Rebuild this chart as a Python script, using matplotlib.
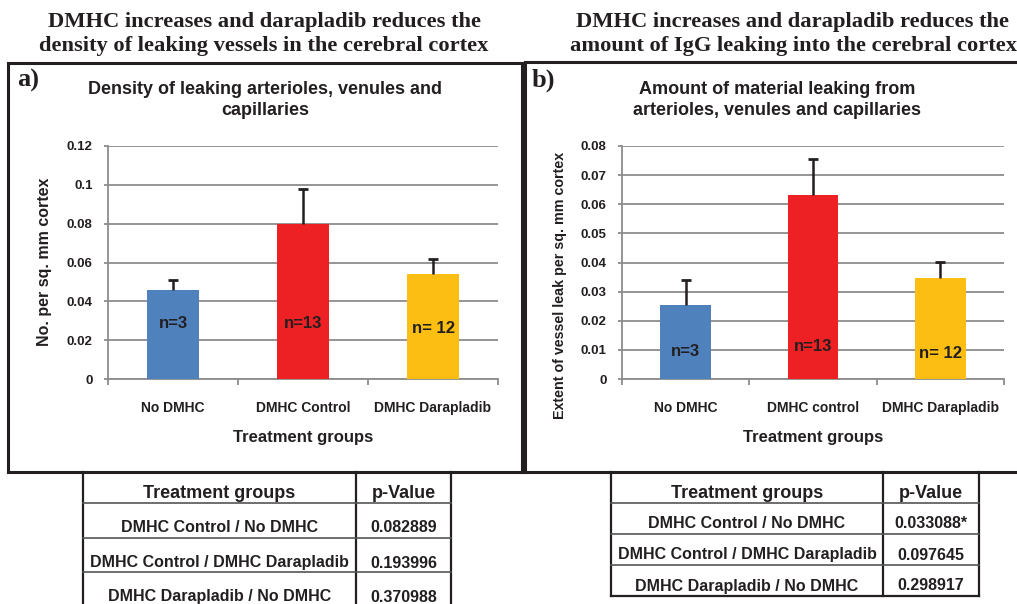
import matplotlib
matplotlib.use("Agg")
import matplotlib.pyplot as plt
from matplotlib.lines import Line2D
from matplotlib.ticker import FuncFormatter, MultipleLocator

# ---- data -------------------------------------------------------------
groups_a = ["No DMHC", "DMHC Control", "DMHC Darapladib"]
density_mean = [0.0458, 0.0800, 0.0542]
density_err = [0.0052, 0.0177, 0.0076]
n_labels_a = ["n=3", "n=13", "n= 12"]

groups_b = ["No DMHC", "DMHC control", "DMHC Darapladib"]
leak_mean = [0.0254, 0.0632, 0.0347]
leak_err = [0.0086, 0.0123, 0.0055]
n_labels_b = ["n=3", "n=13", "n= 12"]

bar_colors = ["#4F81BD", "#ED2024", "#FCBE12"]

pairs_a = ["DMHC Control / No DMHC", "DMHC Control / DMHC Darapladib",
           "DMHC Darapladib / No DMHC"]
pvals_a = ["0.082889", "0.193996", "0.370988"]
pairs_b = ["DMHC Control / No DMHC", "DMHC Control / DMHC Darapladib",
           "DMHC Darapladib / No DMHC"]
pvals_b = ["0.033088*", "0.097645", "0.298917"]

# ---- figure setup -----------------------------------------------------
W, H = 1017, 604
fig = plt.figure(figsize=(W / 100, H / 100), dpi=100)
fig.patch.set_facecolor("white")

SANS = ["Liberation Sans", "DejaVu Sans"]
SERIF = ["Liberation Serif", "DejaVu Serif"]
INK = "#231F20"
GRID = "#8C8C8C"


def fx(x):
    return x / W


def fy(y):
    return 1 - y / H


def hline(x0, x1, y, lw=1.5, color=INK):
    fig.add_artist(Line2D([fx(x0), fx(x1)], [fy(y), fy(y)], lw=lw,
                          color=color, transform=fig.transFigure,
                          solid_capstyle="projecting"))


def vline(x, y0, y1, lw=1.5, color=INK):
    fig.add_artist(Line2D([fx(x), fx(x)], [fy(y0), fy(y1)], lw=lw,
                          color=color, transform=fig.transFigure,
                          solid_capstyle="projecting"))


def ftext(x, y, s, **kw):
    kw.setdefault("ha", "center")
    kw.setdefault("va", "center")
    kw.setdefault("color", INK)
    fig.text(fx(x), fy(y), s, **kw)


def bar_panel(box, groups, means, errs, nlabels, nlabel_y, ymax, ystep,
              ylabel, ylabel_pos):
    left, top, right, bottom = box
    ax = fig.add_axes([fx(left), fy(bottom), fx(right - left),
                       (bottom - top) / H])
    xs = list(range(len(groups)))
    ax.bar(xs, means, width=0.4, color=bar_colors, zorder=3)
    # upper-only error bars: stem from bar top plus a short cap
    tops = [m + e for m, e in zip(means, errs)]
    ax.vlines(xs, means, tops, color=INK, lw=1.8, zorder=4)
    ax.hlines(tops, [x - 0.04 for x in xs], [x + 0.04 for x in xs],
              color=INK, lw=2.0, zorder=4)
    for x, lab, ly in zip(xs, nlabels, nlabel_y):
        ax.text(x, ly, lab, ha="center", va="center", fontsize=12,
                fontweight="bold", family=SANS, color=INK, zorder=5)

    ax.set_xlim(-0.5, len(groups) - 0.5)
    ax.set_ylim(0, ymax)
    ax.yaxis.set_major_locator(MultipleLocator(ystep))
    ax.yaxis.set_major_formatter(FuncFormatter(lambda v, p: f"{round(v, 4):g}"))
    ax.grid(axis="y", color=GRID, lw=1.3, zorder=0)
    ax.set_axisbelow(True)

    ax.set_xticks(xs)
    ax.set_xticklabels(groups)
    ax.set_xticks([i - 0.5 for i in range(len(groups) + 1)], minor=True)
    ax.tick_params(axis="x", which="major", length=0, pad=16)
    ax.tick_params(axis="x", which="minor", length=4, width=1.3,
                   color=GRID, direction="out")
    ax.tick_params(axis="y", length=3, width=1.3, color=GRID, pad=8)

    for lab in ax.get_xticklabels() + ax.get_yticklabels():
        lab.set_fontfamily(SANS)
        lab.set_fontweight("bold")
        lab.set_color(INK)
    for lab in ax.get_xticklabels():
        lab.set_fontsize(10)
    for lab in ax.get_yticklabels():
        lab.set_fontsize(9.5)

    for s in ("top", "right"):
        ax.spines[s].set_visible(False)
    for s in ("left", "bottom"):
        ax.spines[s].set_color(GRID)
        ax.spines[s].set_linewidth(1.3)

    ax.set_xlabel("Treatment groups", fontsize=12, fontweight="bold",
                  family=SANS, color=INK)
    ax.xaxis.set_label_coords(0.5, -0.253)
    ax.xaxis.label.set_va("center")
    ax.set_ylabel(ylabel, fontsize=ylabel_pos[2], fontweight="bold",
                  family=SANS, color=INK)
    ax.yaxis.set_label_coords(ylabel_pos[0], ylabel_pos[1])
    ax.yaxis.label.set_va("center")
    return ax


# ---- panel a ----------------------------------------------------------
bar_panel((108, 146, 498, 379), groups_a, density_mean, density_err,
          n_labels_a, [0.0288, 0.0288, 0.0258], 0.12, 0.02,
          "No. per sq. mm cortex", (-0.162, 0.502, 11.5))

# ---- panel b ----------------------------------------------------------
bar_panel((622, 146, 1004, 379), groups_b, leak_mean, leak_err,
          n_labels_b, [0.0096, 0.0113, 0.0086], 0.08, 0.01,
          "Extent of vessel leak per sq. mm cortex", (-0.162, 0.403, 10.3))

# ---- panel frames -----------------------------------------------------
hline(8, 522, 63, lw=2.2)
hline(8, 522, 472, lw=2.2)
vline(8, 63, 472, lw=2.2)
vline(522, 63, 472, lw=2.2)

hline(525, 1017, 62, lw=2.2)
hline(525, 1017, 472, lw=2.2)
vline(525, 62, 472, lw=2.2)

# ---- headings and titles ----------------------------------------------
ftext(264, 34, "DMHC increases and darapladib reduces the\n"
      "density of leaking vessels in the cerebral cortex",
      fontsize=16.2, fontweight="bold", family=SERIF, linespacing=1.32)
ftext(793, 34, "DMHC increases and darapladib reduces the\n"
      "amount of IgG leaking into the cerebral cortex",
      fontsize=16.2, fontweight="bold", family=SERIF, linespacing=1.32)

ftext(17, 80, "a)", ha="left", fontsize=19, fontweight="bold", family=SERIF)
ftext(532, 80, "b)", ha="left", fontsize=19, fontweight="bold", family=SERIF)

ftext(265, 100, "Density of leaking arterioles, venules and\ncapillaries",
      fontsize=13, fontweight="bold", family=SANS, linespacing=1.27)
ftext(777, 100, "Amount of material leaking from\narterioles, venules and capillaries",
      fontsize=13, fontweight="bold", family=SANS, linespacing=1.27)


# ---- p-value tables ---------------------------------------------------
def pvalue_table(left, mid, right, rows_y, text_y, bottom, pairs, pvals):
    vline(left, 472, bottom, lw=1.6)
    vline(mid, 472, bottom, lw=1.6)
    vline(right, 472, bottom, lw=1.6)
    for y in rows_y:
        hline(left, right, y, lw=1.2, color="#555555")
    if bottom < H:
        hline(left, right, bottom, lw=1.6)
    c1 = (left + mid) / 2
    c2 = (mid + right) / 2
    ftext(c1, text_y[0], "Treatment groups", fontsize=13, fontweight="bold",
          family=SANS)
    ftext(c2, text_y[0], "p-Value", fontsize=13, fontweight="bold",
          family=SANS)
    for ty, pair, pv in zip(text_y[1:], pairs, pvals):
        ftext(c1, ty, pair, fontsize=11.5, fontweight="bold", family=SANS)
        ftext(c2, ty, pv, fontsize=11.5, fontweight="bold", family=SANS)


pvalue_table(83, 356, 451, [503, 538, 572], [494, 527, 563, 597], 608,
             pairs_a, pvals_a)
pvalue_table(611, 883, 979, [503, 534, 565], [493, 523, 555, 586], 596,
             pairs_b, pvals_b)

fig.savefig("out.png", dpi=100, facecolor="white")
